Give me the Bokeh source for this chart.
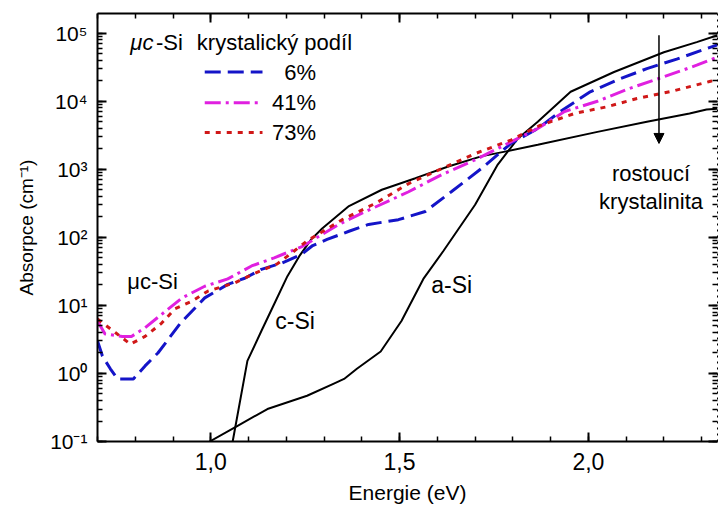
from bokeh.plotting import figure
from bokeh.models import (LinearAxis, LogAxis, SingleIntervalTicker, LogTicker,
                          CustomJSTickFormatter, CustomLabelingPolicy, Arrow,
                          NormalHead, Range1d)
from bokeh.core.properties import value
from bokeh.embed import file_html
from bokeh.resources import INLINE

# Absorption spectra of silicon: amorphous, crystalline and microcrystalline films
# (photon energy in eV, absorption coefficient in cm^-1)

c_si_energy = [1.058, 1.097, 1.134, 1.168, 1.203, 1.234, 1.266, 1.295, 1.366, 1.453,
               1.542, 1.629, 1.716, 1.779, 1.866, 2.024, 2.155, 2.268, 2.313, 2.342]
c_si_alpha = [0.1, 1.53, 4.2, 10.5, 26.9, 52.5, 93.3, 135, 288, 501,
              741, 1100, 1550, 1820, 2290, 3550, 5010, 6610, 7590, 7760]

a_si_energy = [0.997, 1.071, 1.15, 1.255, 1.326, 1.353, 1.387, 1.45, 1.505, 1.563,
               1.616, 1.70, 1.76, 1.813, 1.866, 1.953, 2.068, 2.2, 2.287, 2.342]
a_si_alpha = [0.1, 0.17, 0.30, 0.47, 0.71, 0.83, 1.17, 2.1, 5.9, 24.5,
              63, 302, 1175, 2820, 5010, 13800, 26900, 52500, 74100, 93300]

uc6_energy = [0.70, 0.713, 0.734, 0.753, 0.795, 0.826, 0.86, 0.92, 0.984, 1.045,
              1.09, 1.134, 1.187, 1.24, 1.27, 1.308, 1.366, 1.418, 1.497, 1.568,
              1.637, 1.716, 1.795, 1.866, 1.926, 2.005, 2.084, 2.155, 2.234, 2.342]
uc6_alpha = [3.0, 1.8, 1.17, 0.83, 0.83, 1.29, 2.0, 5.5, 12.9, 20.4,
             25.1, 33.9, 41.7, 56.2, 75.9, 93.3, 123, 155, 182, 240,
             468, 1020, 2400, 3980, 7080, 13800, 21400, 30200, 41700, 67600]

uc41_energy = [0.70, 0.72, 0.766, 0.79, 0.826, 0.87, 0.924, 0.984, 1.045, 1.108,
               1.168, 1.24, 1.339, 1.41, 1.524, 1.611, 1.70, 1.866, 1.937, 2.024,
               2.11, 2.2, 2.287, 2.342]
uc41_alpha = [5.9, 3.8, 3.5, 3.5, 4.7, 7.4, 12.9, 19.1, 24.5, 38.0,
              50.1, 72.4, 155, 240, 468, 832, 1380, 3980, 7080, 10000,
              15500, 22900, 33900, 44700]

uc73_energy = [0.70, 0.747, 0.787, 0.826, 0.87, 0.905, 0.95, 0.992, 1.063, 1.116,
               1.176, 1.221, 1.253, 1.348, 1.436, 1.524, 1.611, 1.70, 1.795, 1.87,
               1.963, 2.05, 2.129, 2.216, 2.321, 2.342]
uc73_alpha = [6.3, 4.0, 2.7, 3.5, 5.5, 8.9, 11.5, 16.2, 21.4, 29.5,
              40.7, 63.1, 87.1, 182, 316, 617, 1020, 1700, 2690, 4370,
              6610, 8320, 11000, 13800, 19500, 20900]

legend_labels = ["6%", "41%", "73%"]

FONT = "Liberation Sans"
BLUE = "#1414c8"
MAGENTA = "#e020e0"
RED = "#d01818"

p = figure(width=722, height=508, output_backend="svg", toolbar_location=None,
           y_axis_type="log", x_axis_location=None, y_axis_location=None,
           x_range=Range1d(0.7, 2.342), y_range=Range1d(0.1, 10 ** 5.29),
           min_border_left=97, min_border_right=1, min_border_top=13,
           min_border_bottom=67)
p.outline_line_color = None
p.xgrid.visible = False
p.ygrid.visible = False
p.background_fill_color = "white"
p.border_fill_color = "white"

x_fmt = CustomJSTickFormatter(code="return tick.toFixed(1).replace('.', ',');")
y_fmt = CustomJSTickFormatter(code="""
const sup = {'-': '\u207b', '0': '\u2070', '1': '\u00b9', '2': '\u00b2', '3': '\u00b3',
             '4': '\u2074', '5': '\u2075', '6': '\u2076', '7': '\u2077', '8': '\u2078', '9': '\u2079'};
const e = Math.round(Math.log10(tick));
return '10' + String(e).split('').map(c => sup[c]).join('');
""")

# mirror axes on the top and right carry ticks only
no_labels = CustomLabelingPolicy(code="""
for (const i of Array.from(indices)) indices.unset(i);
return indices;
""")


def style_axis(ax, dotted=False):
    ax.axis_line_width = 1 if dotted else 2
    ax.axis_line_dash = "dotted" if dotted else "solid"
    ax.major_tick_in = 9
    ax.major_tick_out = 0
    ax.minor_tick_in = 5
    ax.minor_tick_out = 0
    ax.major_tick_line_width = 2
    ax.minor_tick_line_width = 1.5
    ax.axis_line_color = "black"
    ax.major_tick_line_color = "black"
    ax.minor_tick_line_color = "black"
    ax.major_label_text_color = "black"
    ax.axis_label_text_color = "black"


xb = LinearAxis(ticker=SingleIntervalTicker(interval=0.5, num_minor_ticks=5),
                formatter=x_fmt, axis_label="Energie (eV)")
style_axis(xb)
xb.major_label_text_font = FONT
xb.major_label_text_font_size = "23px"
xb.major_label_standoff = 11
xb.axis_label_text_font = FONT
xb.axis_label_text_font_size = "21px"
xb.axis_label_text_font_style = "normal"
xb.axis_label_standoff = 8
p.add_layout(xb, "below")

xt = LinearAxis(ticker=SingleIntervalTicker(interval=0.5, num_minor_ticks=5),
                major_label_policy=no_labels)
style_axis(xt)
xt.major_label_text_font_size = "1px"
xt.major_label_standoff = 0
p.add_layout(xt, "above")

yl = LogAxis(ticker=LogTicker(num_minor_ticks=10), formatter=y_fmt,
             axis_label="Absorpce (cm\u207b\u00b9)")
style_axis(yl)
yl.major_label_text_font = FONT
yl.major_label_text_font_size = "21px"
yl.major_label_standoff = 10
yl.axis_label_text_font = FONT
yl.axis_label_text_font_size = "19px"
yl.axis_label_text_font_style = "normal"
yl.axis_label_standoff = 10
p.add_layout(yl, "left")

yr = LogAxis(ticker=LogTicker(num_minor_ticks=10), major_label_policy=no_labels)
style_axis(yr, dotted=True)
yr.major_label_text_font_size = "1px"
yr.major_label_standoff = 0
p.add_layout(yr, "right")

# spectra
p.line(c_si_energy, c_si_alpha, line_color="black", line_width=2)
p.line(a_si_energy, a_si_alpha, line_color="black", line_width=2)
styles = [
    (uc6_energy, uc6_alpha, BLUE, "16 7"),
    (uc41_energy, uc41_alpha, MAGENTA, "16 5 3 5"),
    (uc73_energy, uc73_alpha, RED, "5 6"),
]
for e, a, col, dash in styles:
    p.line(e, a, line_color=col, line_width=3, line_dash=dash)

# legend block
leg_x0, leg_x1, leg_text_x = 0.984, 1.137, 1.279
leg_y = [26900, 9550, 3470]
for (e, a, col, dash), lab, y in zip(styles, legend_labels, leg_y):
    p.line([leg_x0, leg_x1], [y, y], line_color=col, line_width=3, line_dash=dash)
    p.text(x=[leg_text_x], y=[y], text=[lab], text_font=value(FONT),
           text_font_size="22px", text_align="right", text_baseline="middle",
           text_color="black")

head_y = 74000
p.text(x=[0.787], y=[head_y], text=["\u03bcc"], text_font=value(FONT),
       text_font_size="22px", text_font_style="italic", text_baseline="middle")
p.text(x=[0.855], y=[head_y], text=["-Si"], text_font=value(FONT),
       text_font_size="22px", text_baseline="middle")
p.text(x=[0.963], y=[head_y], text=["krystalick\u00fd pod\u00edl"], text_font=value(FONT),
       text_font_size="22px", text_baseline="middle")

# curve labels
p.text(x=[0.779], y=[22.8], text=["\u03bcc-Si"], text_font=value(FONT),
       text_font_size="22px", text_baseline="middle")
p.text(x=[1.171], y=[5.9], text=["c-Si"], text_font=value(FONT),
       text_font_size="23px", text_baseline="middle")
p.text(x=[1.584], y=[20.0], text=["a-Si"], text_font=value(FONT),
       text_font_size="23px", text_baseline="middle")
p.text(x=[2.166, 2.166], y=[870, 339], text=["rostouc\u00ed", "krystalinita"],
       text_font=value(FONT), text_font_size="22px", text_align="center",
       text_baseline="middle")

p.add_layout(Arrow(x_start=2.187, y_start=93300, x_end=2.187, y_end=2400,
                   line_color="black", line_width=1.5,
                   end=NormalHead(size=10, fill_color="black", line_color="black")))

open("out.html", "w").write(file_html(p, INLINE))
